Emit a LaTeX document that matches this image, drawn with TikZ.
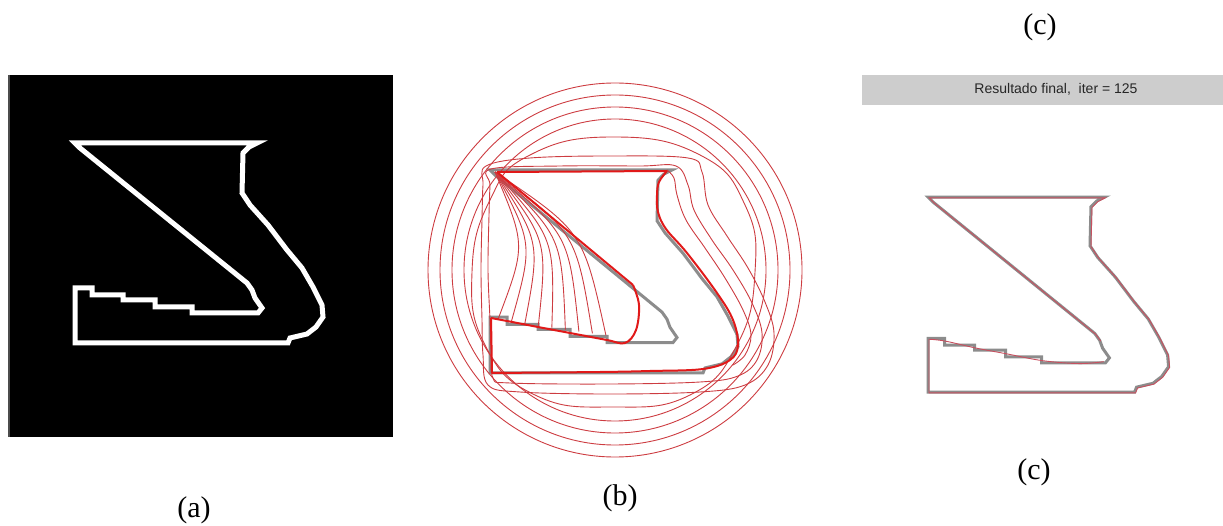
\documentclass[tikz,border=0pt]{standalone}
\usepackage{fontspec}
\setmainfont{Liberation Serif}
\newfontfamily\barfont{Liberation Sans}
\definecolor{cred}{RGB}{205,60,65}
\definecolor{fred}{RGB}{225,25,25}
\definecolor{sgray}{RGB}{140,140,140}
\definecolor{bargray}{RGB}{205,205,205}
\definecolor{pred}{RGB}{200,80,95}
\newcommand\zdraw[1]{\draw[#1] (75,143) -- (257,143) -- (249,147) -- (243,153) -- (242,193) -- (250,205) -- (268,225) -- (287,250) -- (302,268) -- (313,287) -- (322,305) -- (323,317) -- (316,327) -- (307,334) -- (290,338) -- (288,343) -- (75,343) -- (75,288) -- (92,288) -- (92,295) -- (123,295) -- (123,300) -- (155,300) -- (155,307) -- (192,307) -- (192,313) -- (258,313) -- (262,308) -- (255,298) -- (252,290) -- (247,283) -- (80,148) -- cycle;}
\newcommand\zsmooth[1]{\draw[#1] (80,148) -- (75,143) -- (257,143) -- (249,147) -- (243,153) -- (242,193) -- (250,205) -- (268,225) -- (287,250) -- (302,268) -- (313,287) -- (322,305) -- (323,317) -- (316,327) -- (307,334) -- (290,338) -- (288,343) -- (75,343) -- (75,288);
\draw[#1] plot[smooth, tension=0.6] coordinates {(75,288) (92,290) (123,297) (155,303) (192,310) (230,313) (255,311)};
\draw[#1] (252,290) -- (247,283) -- (80,148);}
\tikzset{
  lab/.style={font=\fontsize{30}{34}\selectfont, inner sep=0pt},
  contour/.style={cred, line width=0.9pt},
  final/.style={fred, line width=2pt, line join=round},
}
\begin{document}
\begin{tikzpicture}[x=1pt,y=-1pt]
\useasboundingbox (0,0) rectangle (1223,526);
% ---------- (a)
\fill[black] (8,75) rectangle (393,437);
\draw[black!70, line width=1.5pt] (9,75) -- (9,437);
\zdraw{white, line width=5pt}
\node[lab] (la) at (194,510) {(a)};
% ---------- (b)
\begin{scope}[shift={(415,24.855)}, yscale=1.015]
\zdraw{sgray, line width=3pt}
\end{scope}
\foreach \r in {187,175,163,151} \draw[contour] (615,270) circle[radius=\r];
% fifth, slightly deformed circle
\draw[contour] plot[smooth cycle, tension=0.8] coordinates {(613,137) (700,155) (745,205) (755,272) (737,345) (690,395) (613,407) (535,395) (485,345) (472,272) (490,200) (530,155)};
% deformed closed contours
\draw[contour] plot[smooth cycle, tension=0.6] coordinates {(486,166) (530,158) (610,156) (688,158) (702,172) (708,205) (727,236) (748,268) (765,302) (774,333) (768,365) (745,385) (700,392) (610,394) (520,392) (488,385) (483,355) (482,320) (481,270) (482,220) (483,185)};
\draw[contour] plot[smooth cycle, tension=0.6] coordinates {(491,169) (560,166) (640,166) (676,166) (688,185) (694,210) (712,240) (733,270) (752,303) (762,333) (757,360) (738,376) (700,382) (610,384) (510,383) (493,378) (491,350) (490,320) (488,270) (489,215) (490,185)};
% innermost right fan
\draw[contour] plot[smooth, tension=0.6] coordinates {(667,170) (674,178) (677,195) (686,220) (705,248) (725,278) (743,310) (751,335) (745,355) (733,365)};
% notch fan
\foreach \u in {0.04,0.12,...,0.76} {
  \pgfmathsetmacro\ex{491+169*\u}
  \pgfmathsetmacro\ey{319+24*\u}
  \draw[contour] (495,172) .. controls ({(495+\ex)/2+0.2*(\ey-172)},{(172+\ey)/2-0.2*(\ex-495)}) .. (\ex,\ey);
}
% final contour
\draw[final] (497,172) -- (667,171);
\draw[final] plot[smooth, tension=0.6] coordinates {(667,171) (659,182) (657,195) (658,212) (666,229) (687,253) (717,293) (733,320) (738,345) (730,360) (703,369) (650,371) (600,372) (492,373)};
\draw[final] (492,373) -- (491,318);
\draw[final] plot[smooth, tension=0.6] coordinates {(491,318) (507,321) (538,327) (570,333) (607,340) (625,343) (636,330) (639,305) (633,285)};
\draw[final] (633,285) -- (497,172);
\node[lab] (lb) at (620,498) {(b)};
% ---------- (c)
\node[lab] (lc1) at (1040,27) {(c)};
\fill[bargray] (862,75) rectangle (1223,105);
\node[font=\barfont\fontsize{14}{16}\selectfont, text=black!85, inner sep=0pt] (bar) at (1056,89) {Resultado final,\ \ iter = 125};
\begin{scope}[shift={(855.25,57.6)}, xscale=0.97, yscale=0.975]
\zdraw{sgray, line width=3pt}
\end{scope}
\begin{scope}[shift={(856.25,58.4)}, xscale=0.97, yscale=0.975]
\zsmooth{pred, line width=0.9pt}
\end{scope}
\node[lab] (lc2) at (1034,472) {(c)};
\end{tikzpicture}
\end{document}
